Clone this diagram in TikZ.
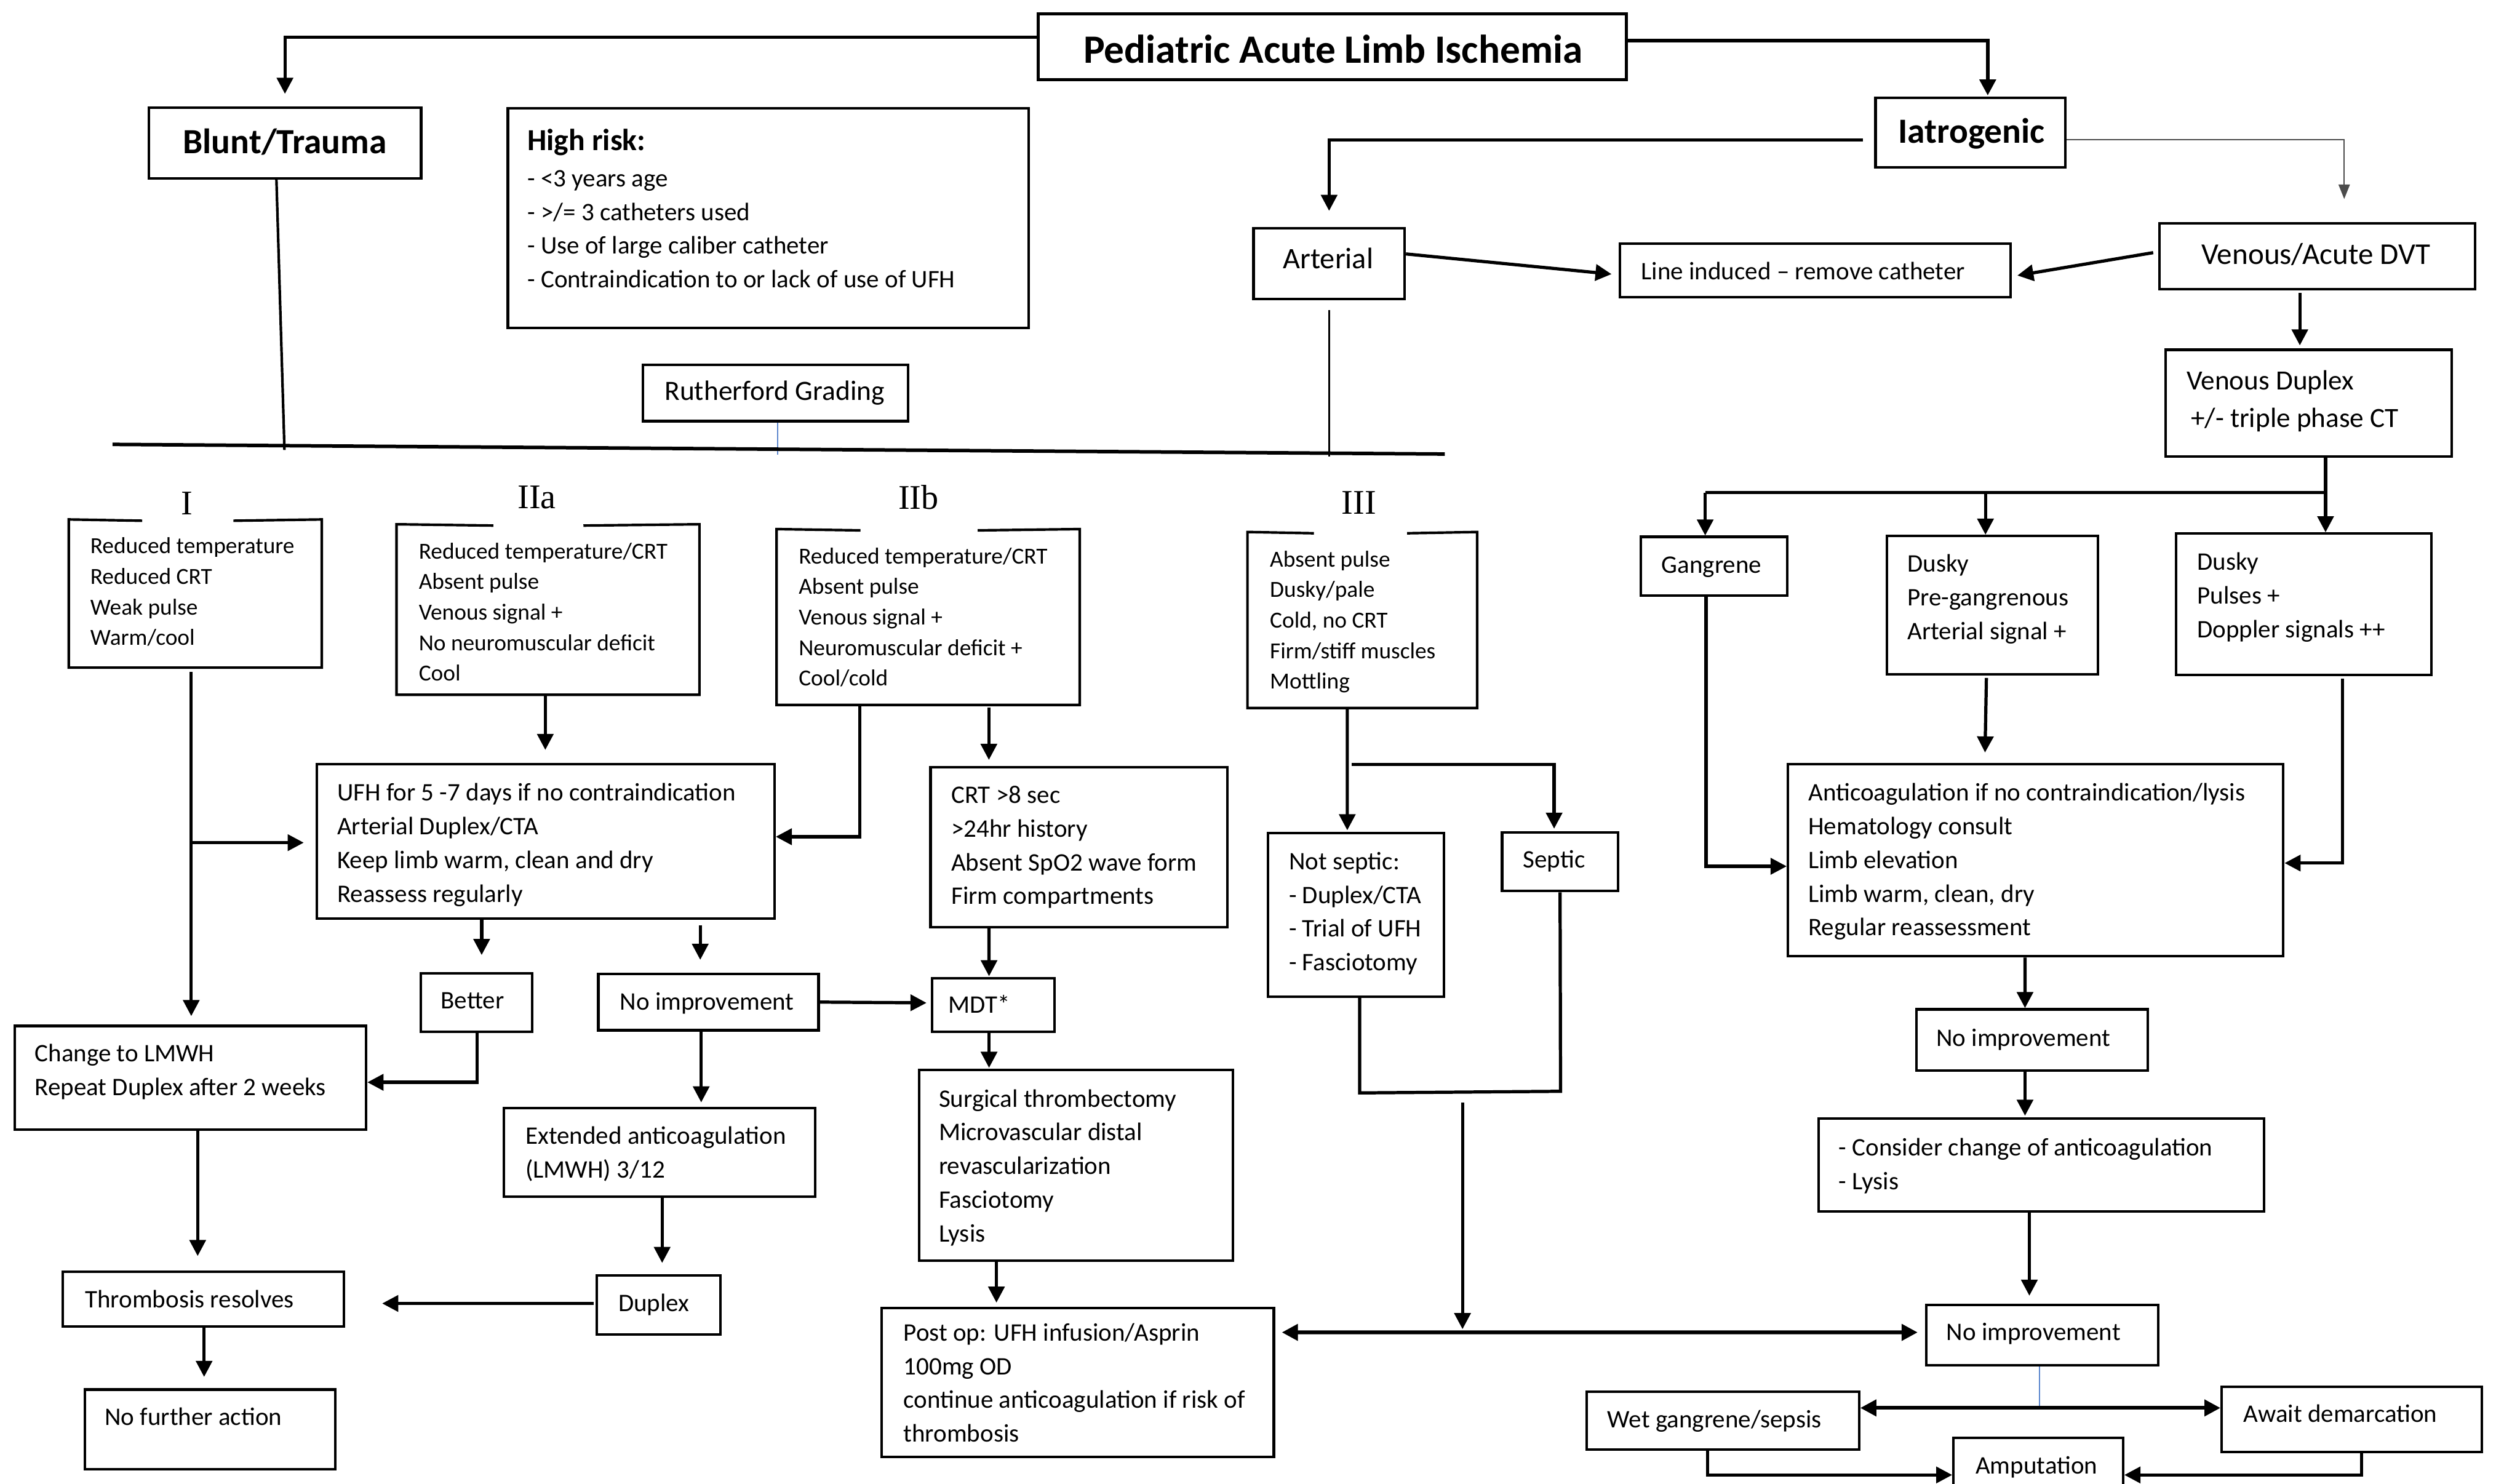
\documentclass[tikz,border=0pt]{standalone}
\usepackage{fontspec}
\setmainfont{Carlito}
\newfontfamily\romanlab{Liberation Serif}
\usetikzlibrary{arrows.meta,calc}
\tikzset{
  box/.style={draw,line width=1.6pt,rectangle,inner sep=0pt},
  conn/.style={line width=2pt},
  arr/.style={conn,-{Triangle[length=10pt,width=10pt]}},
  darr/.style={conn,line width=2.4pt,{Triangle[length=10pt,width=10pt]}-{Triangle[length=10pt,width=10pt]}},
  thinarr/.style={line width=0.8pt,draw=black!70,-{Triangle[length=9pt,width=7pt]}},
  blueline/.style={line width=0.7pt,draw={rgb,255:red,91;green,134;blue,205}},
  gapline/.style={line width=1.6pt},
  tn/.style={inner sep=0pt,font=\fontsize{15.7}{21}\selectfont,align=left},
  ts/.style={inner sep=0pt,font=\fontsize{14.3}{19}\selectfont,align=left},
  rl/.style={inner sep=0pt,font=\romanlab\fontsize{21.5}{24}\selectfont},
  tb/.style={inner sep=0pt,font=\bfseries\fontsize{22}{26}\selectfont}
}
\newcommand\bx[6][]{%
  \pgfmathsetmacro\bxw{#5-#3}%
  \pgfmathsetmacro\bxh{#6-#4}%
  \pgfmathsetmacro\bxx{(#3+#5)/2}%
  \pgfmathsetmacro\bxy{(#4+#6)/2}%
  \node[box,minimum width=\bxw pt,minimum height=\bxh pt,#1] (#2) at (\bxx,\bxy) {};}
\newcommand\mtn[4]{\pgfmathsetmacro\mty{#3-14.7}\node[tn,anchor=north west] (#1) at (#2,\mty) {\strut #4};}
\newcommand\mts[4]{\pgfmathsetmacro\mty{#3-13.3}\node[ts,anchor=north west] (#1) at (#2,\mty) {\strut #4};}
\begin{document}
\begin{tikzpicture}[x=1pt,y=-1pt]
\fill[white] (0,0) rectangle (1568,923);
\useasboundingbox (0,0) rectangle (1568,923);

% ---------- boxes ----------
\bx[line width=1.8pt]{title}{646}{8.6}{1012}{49.7}
\bx{blunt}{92.6}{67}{262}{111}
\bx{risk}{316}{67.5}{640}{204}
\bx{ruth}{400}{227}{565}{262}
\bx{iat}{1167}{61}{1285}{104}
\bx{art}{780}{142}{874}{186}
\bx{lineind}{1008}{151.5}{1251}{185}
\bx{ven}{1343.5}{139}{1540}{180}
\bx{vdup}{1347.6}{217.6}{1525.5}{284}
\bx{gang}{1021}{334}{1112}{370.5}
\bx{duskyA}{1174}{333.5}{1305.5}{419.5}
\bx{duskyB}{1354}{332}{1513}{420}
\bx{anti}{1112.5}{475.6}{1420.7}{595}
\bx{noimpA}{1192.4}{628}{1336.5}{666}
\bx{consider}{1131.6}{696}{1408.7}{753.7}
\bx{noimpB}{1198.6}{811.8}{1342.8}{849.4}
\bx{wet}{987.4}{866}{1156.7}{902}
\bx{await}{1382.4}{863}{1544.3}{903.3}
\bx{amp}{1215.5}{894.7}{1321}{929}
\bx[draw=none]{gI}{43.6}{324}{199.4}{414.6}
\bx[draw=none]{gIIa}{247.5}{327}{434.4}{431.5}
\bx[draw=none]{gIIb}{484}{330}{671}{437.8}
\bx[draw=none]{gIII}{777}{331.8}{918.3}{439.7}
\bx{ufh}{197}{475.6}{481.9}{571.5}
\bx{crt}{579}{477.4}{763.6}{576.8}
\bx{notsep}{789}{518.4}{898.4}{620}
\bx{septic}{934.6}{518}{1006.8}{554.4}
\bx{better}{261.7}{605.5}{331}{642}
\bx{noimpL}{372.3}{606}{509.3}{641}
\bx{mdt}{580}{608.7}{656}{642}
\bx{change}{9.2}{638.3}{227.8}{702.8}
\bx{ext}{313.6}{689.5}{507.3}{744.7}
\bx{surg}{572}{665.6}{767.3}{784.5}
\bx{thromb}{39}{791.3}{213.9}{825.3}
\bx{duplex}{371.3}{793.7}{448.2}{830.2}
\bx{postop}{548.6}{814}{792.6}{906.5}
\bx{nofurther}{52.8}{864.6}{208.6}{914}

% grading boxes with a gap in the top edge
\draw[gapline] (88.5,324) -- (gI.north west) -- (gI.south west) -- (gI.south east) -- (gI.north east) -- (145.2,324);
\draw[gapline] (307,327) -- (gIIa.north west) -- (gIIa.south west) -- (gIIa.south east) -- (gIIa.north east) -- (363,327);
\draw[gapline] (535.4,330) -- (gIIb.north west) -- (gIIb.south west) -- (gIIb.south east) -- (gIIb.north east) -- (608.3,330);
\draw[gapline] (817.5,331.8) -- (gIII.north west) -- (gIII.south west) -- (gIII.south east) -- (gIII.north east) -- (875.5,331.8);

\node[rl,anchor=base] (labI) at (116.5,320.4) {I};
\node[rl,anchor=base] (labIIa) at (334,316.3) {IIa};
\node[rl,anchor=base] (labIIb) at (571.5,316.8) {IIb};
\node[rl,anchor=base] (labIII) at (845.5,320) {III};

% ---------- texts ----------
\node[inner sep=0pt,font=\bfseries\fontsize{25}{30}\selectfont,anchor=base] (title-t) at (829.5,39.2) {Pediatric Acute Limb Ischemia};
\node[tb,anchor=base] (blunt-t) at (177.3,95.6) {Blunt/Trauma};
\node[tb,anchor=base] (iat-t) at (1226.7,88.9) {Iatrogenic};
\node[tn,anchor=north west] (risk-t) at (328,78.6) {\strut{\bfseries\fontsize{19}{21}\selectfont High risk:}\\[1.6pt]- <3 years age\\- >/= 3 catheters used\\- Use of large caliber catheter\\- Contraindication to or lack of use of UFH};
\node[inner sep=0pt,font=\fontsize{17.4}{21}\selectfont,anchor=base] (ruth-t) at (482,249) {Rutherford Grading};
\node[inner sep=0pt,font=\fontsize{18.5}{22}\selectfont,anchor=base] (art-t) at (826.4,167.2) {Arterial};
\node[tn,anchor=base west] (lineind-t) at (1021,174) {Line induced -- remove catheter};
\node[inner sep=0pt,font=\fontsize{18.8}{22}\selectfont,anchor=base] (ven-t) at (1441,164.6) {Venous/Acute DVT};
\node[inner sep=0pt,font=\fontsize{17.3}{23}\selectfont,align=left,anchor=north west] (vdup-t) at (1360.4,226.4) {\strut Venous Duplex\\\hspace*{2.6pt}+/- triple phase CT};
\node[tn,anchor=base] (gang-t) at (1065,356.7) {Gangrene};
\mtn{duskyA-t}{1186.6}{355.6}{Dusky\\Pre-gangrenous\\Arterial signal +}
\mtn{duskyB-t}{1367}{354.5}{Dusky\\Pulses +\\Doppler signals ++}
\mtn{anti-t}{1125}{498}{Anticoagulation if no contraindication/lysis\\Hematology consult\\Limb elevation\\Limb warm, clean, dry\\Regular reassessment}
\node[tn,anchor=base west] (noimpA-t) at (1204.6,650.8) {No improvement};
\mtn{consider-t}{1144}{719}{- Consider change of anticoagulation\\- Lysis}
\node[tn,anchor=base west] (noimpB-t) at (1211,834) {No improvement};
\node[tn,anchor=base west] (wet-t) at (1000,888.3) {Wet gangrene/sepsis};
\node[tn,anchor=base west] (await-t) at (1395.7,885) {Await demarcation};
\node[tn,anchor=base] (amp-t) at (1267.2,917) {Amputation};
\mts{gI-t}{56}{344.3}{Reduced temperature\\Reduced CRT\\Weak pulse\\Warm/cool}
\mts{gIIa-t}{260.4}{347.5}{Reduced temperature/CRT\\Absent pulse\\Venous signal +\\No neuromuscular deficit\\Cool}
\mts{gIIb-t}{496.8}{350.5}{Reduced temperature/CRT\\Absent pulse\\Venous signal +\\Neuromuscular deficit +\\Cool/cold}
\mts{gIII-t}{790}{352.5}{Absent pulse\\Dusky/pale\\Cold, no CRT\\Firm/stiff muscles\\Mottling}
\mtn{ufh-t}{209.6}{498}{UFH for 5 -7 days if no contraindication\\Arterial Duplex/CTA\\Keep limb warm, clean and dry\\Reassess regularly}
\mtn{crt-t}{591.7}{499.5}{CRT >8 sec\\>24hr history\\Absent SpO2 wave form\\Firm compartments}
\mtn{notsep-t}{801.8}{540.8}{Not septic:\\- Duplex/CTA\\- Trial of UFH\\- Fasciotomy}
\node[tn,anchor=base] (septic-t) at (967,540) {Septic};
\node[tn,anchor=base] (better-t) at (294,627.6) {Better};
\node[tn,anchor=base west] (noimpL-t) at (385.6,628.3) {No improvement};
\node[tn,anchor=base west] (mdt-t) at (590,630.4) {MDT*};
\mtn{change-t}{21.5}{660.5}{Change to LMWH\\Repeat Duplex after 2 weeks}
\mtn{ext-t}{326.8}{711.6}{Extended anticoagulation\\(LMWH) 3/12}
\mtn{surg-t}{584}{688.5}{Surgical thrombectomy\\Microvascular distal\\revascularization\\Fasciotomy\\Lysis}
\node[tn,anchor=base west] (thromb-t) at (52.8,813.7) {Thrombosis resolves};
\node[tn,anchor=base] (duplex-t) at (406.8,816) {Duplex};
\node[tn,anchor=base west] (nofurther-t) at (65,886.8) {No further action};
\mtn{postop-t}{562}{834}{Post op: UFH infusion/Asprin\\100mg OD\\continue anticoagulation if risk of\\thrombosis}

% ---------- connectors ----------
\draw[arr, shorten >=7.8pt] ([yshift=5.85pt]title.west) -| (blunt.north);
\draw[arr, line width=2.3pt, shorten >=0.8pt] ([yshift=3.95pt]title.east) -| ([xshift=10.8pt]iat.north);
\draw[arr, shorten <=7pt, shorten >=10pt] ([yshift=-4.5pt]iat.west) -| (art.north);
\draw[thinarr, shorten >=14.4pt] ([yshift=-4.5pt]iat.east) -| ([xshift=16.85pt]ven.north);
\draw[arr, shorten >=4.5pt] ([yshift=6pt]art.east) -- ([yshift=-2.75pt]lineind.west);
\draw[arr, shorten <=3pt, shorten >=3.5pt] ([yshift=2.8pt]ven.west) -- ([yshift=-3.75pt]lineind.east);
\draw[arr, shorten <=1.6pt, shorten >=1.9pt] ([xshift=-10.75pt]ven.south) -- ([xshift=-5.55pt]vdup.north);

\coordinate (barL) at (1061,306.5);
\coordinate (barM) at (1235.4,306.5);
\coordinate (barR) at (1447,306.5);
\draw[conn] ([xshift=10.45pt]vdup.south) -- (barR) -- (barL);
\draw[arr] (barL) -- ([xshift=-5.5pt]gang.north);
\draw[arr] (barM) -- ([xshift=-4.35pt]duskyA.north);
\draw[arr] (barR) -- ([xshift=13.5pt]duskyB.north);
\draw[arr, shorten <=1.5pt, shorten >=6.6pt] ([xshift=-3.75pt]duskyA.south) -- ([xshift=-31.6pt]anti.north);
\draw[arr] ([xshift=-5pt]gang.south) |- ([yshift=-3.7pt]anti.west);
\draw[arr, shorten <=1.5pt] ([xshift=23.9pt]duskyB.south) |- ([yshift=-1.7pt]anti.east);
\draw[arr] ([xshift=-6.6pt]anti.south) -- ([xshift=-4.45pt]noimpA.north);
\draw[arr, shorten >=1pt] ([xshift=-4.45pt]noimpA.south) -- ([xshift=-10.15pt]consider.north);
\draw[arr, shorten >=4.8pt] ([xshift=-7.45pt]consider.south) -- ([xshift=-8pt]noimpB.north);
\draw[darr, shorten <=4.2pt, shorten >=4.6pt] ([yshift=31.25pt]postop.east) -- ([yshift=1.6pt]noimpB.west);

\coordinate (brL) at (846,680);
\coordinate (brR) at (971,679);
\draw[conn] ([xshift=2.3pt]notsep.south) -- (brL) -- (brR) -- (septic.south);
\coordinate (mergeTop) at (910,686);
\coordinate (mergeBot) at (910,827);
\draw[arr] (mergeTop) -- (mergeBot);

\draw[arr, shorten >=1pt] ([xshift=-9.35pt]gIII.south) -- ([xshift=-5.4pt]notsep.north);
\coordinate (brIII) at (841,475.7);
\draw[arr, shorten >=1.6pt] (brIII) -| ([xshift=-3.7pt]septic.north);

\draw[arr] ([xshift=-42.5pt]gIIb.south) |- ([yshift=2.95pt]ufh.east);
\draw[arr, shorten <=1.5pt, shorten >=3.8pt] ([xshift=37.8pt]gIIb.south) -- ([xshift=-56pt]crt.north);
\draw[arr, shorten >=0.5pt] ([xshift=-55.9pt]crt.south) -- ([xshift=-2.6pt]mdt.north);
\draw[arr, shorten >=2.7pt] (noimpL.east) -- ([yshift=1.35pt]mdt.west);
\draw[arr, shorten >=0.4pt] ([xshift=-2.6pt]mdt.south) -- ([xshift=-54.25pt]surg.north);
\draw[arr, shorten >=2.7pt] ([xshift=-49.65pt]surg.south) -- ([xshift=-50.6pt]postop.north);
\draw[arr, shorten >=8.2pt] ([xshift=-1.65pt]gIIa.south) -- ([xshift=-0.15pt]ufh.north);

\draw[arr, shorten <=2.8pt, shorten >=5.3pt] ([xshift=-2.5pt]gI.south) -- ([xshift=0.5pt]change.north);
\coordinate (brI) at (119.5,524.3);
\draw[arr, shorten >=7.2pt] (brI) -- ([yshift=-0.75pt]ufh.west);
\draw[arr, shorten >=10.5pt] ([xshift=-39.75pt]ufh.south) -- ([xshift=3.35pt]better.north);
\draw[arr, shorten <=3.3pt, shorten >=8pt] ([xshift=96.25pt]ufh.south) -- ([xshift=-5.1pt]noimpL.north);
\draw[arr] ([xshift=0.65pt]better.south) |- ([yshift=-2.85pt]change.east);
\draw[arr, shorten >=2.8pt] ([xshift=-4.5pt]noimpL.south) -- ([xshift=25.85pt]ext.north);
\draw[arr, shorten >=7.1pt] ([xshift=1.55pt]ext.south) -- ([xshift=2.25pt]duplex.north);
\draw[arr, shorten <=1pt, shorten >=23.1pt] ([yshift=0.95pt]duplex.west) -- ([yshift=-2.7pt]thromb.east);
\draw[arr, shorten >=9pt] ([xshift=4.5pt]change.south) -- ([xshift=-3.45pt]thromb.north);
\draw[arr, shorten >=7.1pt] ([xshift=0.55pt]thromb.south) -- ([xshift=-3.7pt]nofurther.north);

\coordinate (splitC) at (1269,876);
\draw[blueline] ([xshift=-1.7pt]noimpB.south) -- (splitC);
\draw[darr] ([yshift=8pt]wet.east) -- ([yshift=7.15pt]await.west);
\draw[arr] ([xshift=-9.6pt]wet.south) |- ([yshift=-5.85pt]amp.west);
\draw[arr] ([xshift=6pt]await.south) |- ([yshift=-5.85pt]amp.east);

\coordinate (ruthEnd) at (484,283);
\draw[blueline] ([xshift=1.5pt]ruth.south) -- (ruthEnd);
\coordinate (hL) at (70,276.5);
\coordinate (hR) at (899,282.5);
\draw[conn, line width=2.2pt] (hL) -- (hR);
\coordinate (bluntEnd) at (177,280);
\draw[conn, line width=1.6pt] ([xshift=-5.3pt]blunt.south) -- (bluntEnd);
\coordinate (artEnd) at (827,284);
\draw[conn, line width=1.4pt, shorten <=6pt] (art.south) -- (artEnd);
\end{tikzpicture}
\end{document}
